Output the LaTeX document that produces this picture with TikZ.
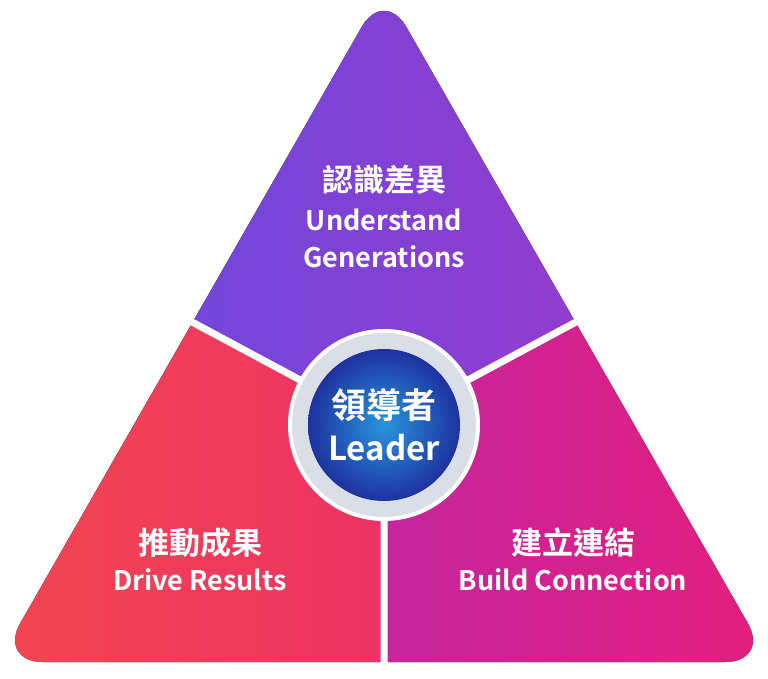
\documentclass[tikz,border=0pt]{standalone}
\usepackage{fontspec}
\setmainfont{Noto Sans CJK TC Bold}
\begin{document}
\begin{tikzpicture}[x=1pt,y=-1pt,
  lbl/.style={text=white,font=\fontsize{27}{30}\selectfont,inner sep=0},
  cjk/.style={text=white,font=\fontsize{31}{34}\selectfont,inner sep=0}]
\useasboundingbox (0,0) rectangle (768,679);
\coordinate (c) at (384,425);
\coordinate (l) at (0,219);
\coordinate (r) at (768,219);
\coordinate (b) at (384,700);
\begin{scope}
\clip (c) -- (l) -- (0,-50) -- (768,-50) -- (r) -- cycle;
\fill[rounded corners=45pt,left color={rgb,255:red,100;green,75;blue,225},right color={rgb,255:red,160;green,55;blue,200}] (384,-12) -- (770,662) -- (-2,662) -- cycle;
\end{scope}
\begin{scope}
\clip (c) -- (l) -- (0,700) -- (b) -- cycle;
\fill[rounded corners=45pt,left color={rgb,255:red,242;green,70;blue,80},right color={rgb,255:red,232;green,30;blue,120}] (384,-12) -- (770,662) -- (-2,662) -- cycle;
\end{scope}
\begin{scope}
\clip (c) -- (r) -- (768,700) -- (b) -- cycle;
\fill[rounded corners=45pt,left color={rgb,255:red,165;green,45;blue,190},right color={rgb,255:red,228;green,30;blue,125}] (384,-12) -- (770,662) -- (-2,662) -- cycle;
\end{scope}
\draw[white,line width=7pt] (c) -- (l) (c) -- (r) (c) -- (b);
\node[circle,minimum size=188pt,fill={rgb,255:red,218;green,222;blue,230},draw=white,line width=4pt] (ring) at (c) {};
\node[circle,minimum size=152pt,inner color={rgb,255:red,40;green,150;blue,220},outer color={rgb,255:red,30;green,50;blue,160}] (core) at (c) {};
\node[cjk] (t1) at (384,180) {認識差異};
\node[lbl] (t2) at (384,220) {Understand};
\node[lbl] (t3) at (384,257) {Generations};
\node[cjk] (l1) at (200,543) {推動成果};
\node[lbl] (l2) at (200,580) {Drive Results};
\node[cjk] (r1) at (573,543) {建立連結};
\node[lbl] (r2) at (573,580) {Build Connection};
\node[cjk,font=\fontsize{35}{38}\selectfont] (c1) at (384,405) {領導者};
\node[lbl,font=\fontsize{33}{36}\selectfont] (c2) at (384,448) {Leader};
\end{tikzpicture}
\end{document}
